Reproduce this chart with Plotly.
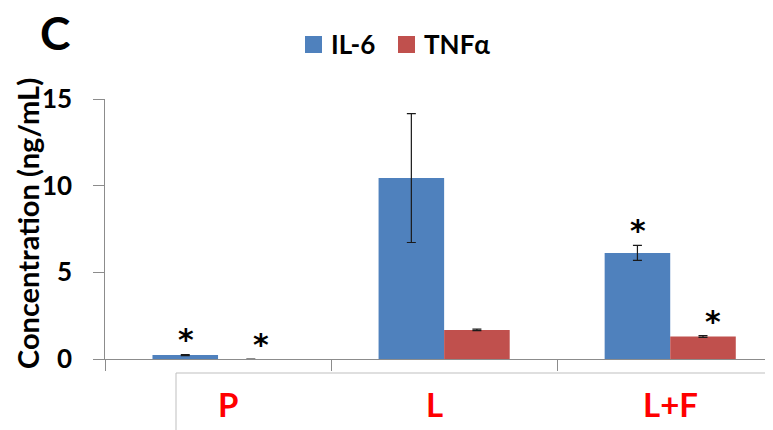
import plotly.graph_objects as go

categories = ["P", "L", "L+F"]
series_names = ["IL-6", "TNFα"]
il6_values = [0.23, 10.44, 6.12]
il6_errors = [0.03, 3.72, 0.43]
tnf_values = [0.0, 1.68, 1.30]
tnf_errors = [0.0, 0.04, 0.05]
il6_sig = [True, False, True]
tnf_sig = [True, False, True]
y_ticks = [0, 5, 10, 15]
y_title = "Concentration (ng/mL)"
panel_label = "C"

FONT = "Lato"
BLUE = "#4F81BD"
RED = "#C0504D"
AXIS = "#8C8C8C"

# plot area in screen pixels (page body has 8px margin)
PX_L, PX_R, PX_T, PX_B = 105, 781, 99, 359


def px_x(p):
    return (p - PX_L) / (PX_R - PX_L)


def px_y(p):
    return (PX_B - p) / (PX_B - PX_T)


fig = go.Figure()
fig.add_trace(go.Bar(
    name=series_names[0], x=categories, y=il6_values,
    marker=dict(color=BLUE, line=dict(width=0)),
    error_y=dict(type="data", array=il6_errors, color="#1a1a1a", thickness=1.2, width=4.5),
))
fig.add_trace(go.Bar(
    name=series_names[1], x=categories, y=tnf_values,
    marker=dict(color=RED, line=dict(width=0)),
    error_y=dict(type="data", array=tnf_errors, color="#1a1a1a", thickness=1.2, width=4.5),
))

star_font = dict(family="DejaVu Sans", size=30, color="black", weight="bold")
annotations = []
for i, c in enumerate(categories):
    if il6_sig[i]:
        annotations.append(dict(x=c, y=il6_values[i] + il6_errors[i], xref="x", yref="y",
                                text="*", showarrow=False, xshift=-32, yshift=-5,
                                yanchor="bottom", font=star_font))
    if tnf_sig[i]:
        annotations.append(dict(x=c, y=tnf_values[i] + tnf_errors[i], xref="x", yref="y",
                                text="*", showarrow=False, xshift=43, yshift=-5,
                                yanchor="bottom", font=star_font))

label_shifts = [10, -10, 0]
for i, c in enumerate(categories):
    annotations.append(dict(x=c, y=0, xref="x", yref="y", text=c, showarrow=False,
                            yanchor="middle", yshift=-45, xshift=label_shifts[i],
                            font=dict(family=FONT, size=33, color="#FF0000", weight="bold")))

# y tick labels, placed on the y scale, set away from the axis as in the reference
for v in y_ticks:
    annotations.append(dict(x=px_x(74), y=v, xref="paper", yref="y", text=str(v),
                            showarrow=False, xanchor="right", yanchor="middle", yshift=1,
                            font=dict(family=FONT, size=26, color="black", weight="bold")))

annotations.append(dict(x=px_x(55), y=px_y(32), xref="paper", yref="paper", text=panel_label,
                        showarrow=False, xanchor="center", yanchor="middle",
                        font=dict(family=FONT, size=46, color="black", weight="bold")))

annotations.append(dict(x=px_x(27), y=px_y(224), xref="paper", yref="paper", text=y_title,
                        showarrow=False, xanchor="center", yanchor="middle", textangle=-90,
                        font=dict(family=FONT, size=29, color="black", weight="bold")))

# legend (drawn manually to match the large square keys)
legend_items = [(series_names[0], BLUE, 305), (series_names[1], RED, 398)]
shapes = []
for name, col, x0 in legend_items:
    shapes.append(dict(type="rect", xref="paper", yref="paper",
                       x0=px_x(x0), x1=px_x(x0 + 17), y0=px_y(53), y1=px_y(36),
                       fillcolor=col, line=dict(width=0)))
    annotations.append(dict(x=px_x(x0 + 24), y=px_y(44), xref="paper", yref="paper",
                            text=name, showarrow=False, xanchor="left", yanchor="middle",
                            font=dict(family=FONT, size=26, color="black", weight="bold")))

shapes.append(dict(type="rect", xref="paper", yref="paper", x0=px_x(176), x1=1.2,
                   y0=-0.6, y1=px_y(373), line=dict(color="#BFBFBF", width=1)))

fig.update_layout(
    width=773, height=430,
    margin=dict(l=PX_L - 8, r=0, t=PX_T - 8, b=430 + 8 - PX_B),
    plot_bgcolor="white", paper_bgcolor="white",
    barmode="group", bargap=0.42, bargroupgap=0,
    font=dict(family=FONT, color="black"),
    showlegend=False,
    xaxis=dict(type="category", range=[-0.5, 2.49], showline=True, linecolor=AXIS,
               linewidth=1.3, ticks="outside", tickson="boundaries", ticklen=11,
               tickcolor=AXIS, tickwidth=1.3, showticklabels=False, showgrid=False,
               zeroline=False),
    yaxis=dict(range=[0, 15], tickvals=y_ticks, showline=True, linecolor=AXIS,
               linewidth=1.3, ticks="outside", ticklen=11, tickcolor=AXIS, tickwidth=1.3,
               showticklabels=False, showgrid=False, zeroline=False),
    annotations=annotations,
    shapes=shapes,
)

fig.write_html("out.html")
